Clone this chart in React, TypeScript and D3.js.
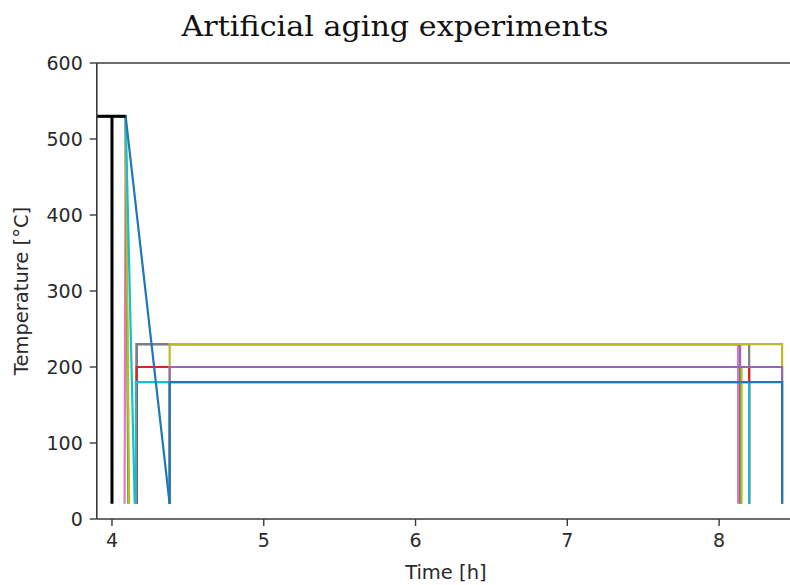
import React from "react";
import * as d3 from "d3";

// Axis ticks
const TIME_TICKS = [4, 5, 6, 7, 8];
const TEMP_TICKS = [0, 100, 200, 300, 400, 500, 600];

// Furnace hold at the solution temperature and the reference quench (black)
const furnaceHold: [number, number][] = [[3.9, 530], [4.09, 530]];
const referenceQuench: [number, number][] = [[4.0, 530], [4.0, 20]];

// Solution treatment then cooling to room temperature, per experiment
const pinkQuench: [number, number][] = [[3.9, 530], [4.09, 530], [4.083, 20]];
const greenQuench: [number, number][] = [[3.9, 530], [4.09, 530], [4.108, 20]];
const oliveQuench: [number, number][] = [[3.9, 530], [4.09, 530], [4.113, 20]];
const cyanQuench: [number, number][] = [[3.9, 530], [4.09, 530], [4.15, 20]];
const blueQuench: [number, number][] = [[3.9, 530], [4.09, 530], [4.38, 20]];

// Aging stages: heat up, hold at aging temperature, cool down
const pinkAging: [number, number][] = [[4.163, 20], [4.163, 230], [8.125, 230], [8.125, 20]];
const purpleAgingShort: [number, number][] = [[4.163, 20], [4.163, 230], [8.138, 230], [8.138, 20]];
const greenAging: [number, number][] = [[4.163, 20], [4.163, 200], [8.143, 200], [8.143, 20]];
const oliveAgingShort: [number, number][] = [[4.163, 20], [4.163, 200], [8.148, 200], [8.148, 20]];
const grayAging: [number, number][] = [[4.163, 20], [4.163, 230], [8.198, 230], [8.198, 20]];
const redAging: [number, number][] = [[4.163, 20], [4.163, 200], [8.198, 200], [8.198, 20]];
const cyanAging: [number, number][] = [[4.158, 20], [4.158, 180], [8.198, 180], [8.198, 20]];
const oliveAging: [number, number][] = [[4.38, 20], [4.38, 230], [8.415, 230], [8.415, 20]];
const purpleAging: [number, number][] = [[4.38, 20], [4.38, 200], [8.415, 200], [8.415, 20]];
const blueAging: [number, number][] = [[4.38, 20], [4.38, 180], [8.415, 180], [8.415, 20]];

const C = {
  blue: "#1f77b4",
  orange: "#ff7f0e",
  green: "#2ca02c",
  red: "#d62728",
  purple: "#9467bd",
  pink: "#e377c2",
  gray: "#7f7f7f",
  olive: "#bcbd22",
  cyan: "#17becf",
  black: "#000000",
};

// Drawing order: later entries sit on top
const SERIES: { pts: [number, number][]; color: string; width: number }[] = [
  { pts: pinkAging, color: C.pink, width: 2.2 },
  { pts: purpleAgingShort, color: C.purple, width: 2.2 },
  { pts: greenAging, color: C.green, width: 2.2 },
  { pts: oliveAgingShort, color: C.olive, width: 2.2 },
  { pts: grayAging, color: C.gray, width: 2.2 },
  { pts: redAging, color: C.red, width: 2.2 },
  { pts: cyanAging, color: C.cyan, width: 2.2 },
  { pts: oliveAging, color: C.olive, width: 2.2 },
  { pts: purpleAging, color: C.purple, width: 2.2 },
  { pts: blueAging, color: C.blue, width: 2.2 },
  { pts: pinkQuench, color: C.pink, width: 2.2 },
  { pts: greenQuench, color: C.green, width: 2.2 },
  { pts: oliveQuench, color: C.olive, width: 2.2 },
  { pts: cyanQuench, color: C.cyan, width: 2.2 },
  { pts: blueQuench, color: C.blue, width: 2.2 },
  { pts: furnaceHold, color: C.black, width: 3 },
  { pts: referenceQuench, color: C.black, width: 3 },
];

const W = 790;
const H = 585;
const M = { left: 96.8, right: 795, top: 63, bottom: 519 };

export default function App() {
  const x = d3.scaleLinear().domain([3.9, 8.5]).range([M.left, M.right]);
  const y = d3.scaleLinear().domain([0, 600]).range([M.bottom, M.top]);
  const line = d3
    .line<[number, number]>()
    .x((d) => x(d[0]))
    .y((d) => y(d[1]));

  const axisColor = "#3a3a3a";
  const tickFont = "DejaVu Sans, sans-serif";

  return (
    <svg
      width={W}
      height={H}
      style={{ position: "absolute", left: 0, top: 0, background: "#fff" }}
    >
      <defs>
        <clipPath id="plotArea">
          <rect x={M.left} y={M.top} width={M.right - M.left} height={M.bottom - M.top} />
        </clipPath>
      </defs>

      <text
        x={395}
        y={36}
        textAnchor="middle"
        fontFamily="DejaVu Serif, serif"
        fontSize={27}
        textLength={427}
        lengthAdjust="spacingAndGlyphs"
        fill="#111"
      >
        Artificial aging experiments
      </text>

      <g clipPath="url(#plotArea)">
        {SERIES.map((s, i) => (
          <path
            key={i}
            d={line(s.pts) || ""}
            fill="none"
            stroke={s.color}
            strokeWidth={s.width}
            strokeLinejoin="miter"
          />
        ))}
      </g>

      {/* spines */}
      <g stroke={axisColor} strokeWidth={1.6} fill="none">
        <line x1={M.left} x2={M.left} y1={M.top} y2={M.bottom} />
        <line x1={M.left} x2={M.right} y1={M.top} y2={M.top} />
        <line x1={M.left} x2={M.right} y1={M.bottom} y2={M.bottom} />
        <line x1={M.right} x2={M.right} y1={M.top} y2={M.bottom} />
      </g>

      {/* y ticks */}
      {TEMP_TICKS.map((t) => (
        <g key={"y" + t}>
          <line x1={M.left - 7} x2={M.left} y1={y(t)} y2={y(t)} stroke={axisColor} strokeWidth={1.4} />
          <text
            x={M.left - 14}
            y={y(t)}
            dy="0.36em"
            textAnchor="end"
            fontFamily={tickFont}
            fontSize={19}
            fill="#2a2a2a"
          >
            {t}
          </text>
        </g>
      ))}

      {/* x ticks */}
      {TIME_TICKS.map((t) => (
        <g key={"x" + t}>
          <line x1={x(t)} x2={x(t)} y1={M.bottom} y2={M.bottom + 7} stroke={axisColor} strokeWidth={1.4} />
          <text
            x={x(t)}
            y={M.bottom + 28}
            textAnchor="middle"
            fontFamily={tickFont}
            fontSize={19}
            fill="#2a2a2a"
          >
            {t}
          </text>
        </g>
      ))}

      <text
        x={(M.left + M.right) / 2}
        y={579}
        textAnchor="middle"
        fontFamily={tickFont}
        fontSize={19.5}
        fill="#2a2a2a"
      >
        Time [h]
      </text>

      <text
        transform={`translate(28, ${(M.top + M.bottom) / 2}) rotate(-90)`}
        textAnchor="middle"
        fontFamily={tickFont}
        fontSize={19.5}
        fill="#2a2a2a"
      >
        Temperature [°C]
      </text>
    </svg>
  );
}
